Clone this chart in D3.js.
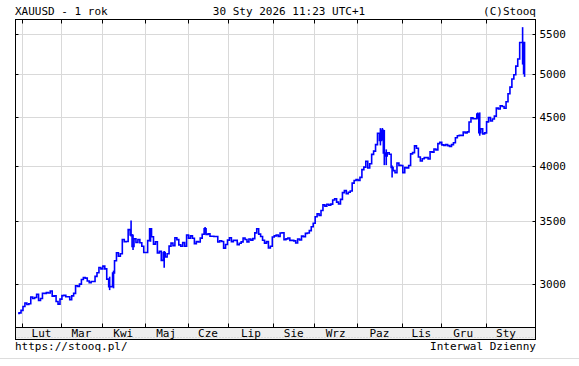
<!DOCTYPE html>
<html>
<head>
<meta charset="utf-8">
<script src="https://cdn.jsdelivr.net/npm/d3@7"></script>
<style>
  body { margin: 0; background: #fff; }
  text { font-family: "DejaVu Sans Mono", monospace; font-size: 11px; fill: #000; }
</style>
</head>
<body>
<div class="chart"></div>
<script>
// daily closes XAUUSD, one array per month (weekdays)
var jan25 = [2795, 2798];
var feb25 = [2815, 2842, 2866, 2856, 2861, 2908, 2898, 2905, 2928, 2883, 2898, 2935, 2934, 2939, 2936, 2951, 2914, 2916, 2876, 2858];
var mar25 = [2893, 2918, 2920, 2910, 2910, 2889, 2916, 2934, 2989, 2984, 3000, 3034, 3048, 3044, 3023, 3011, 3020, 3019, 3057, 3084, 3124];
var apr25 = [3113, 3134, 3113, 3037, 2982, 2982, 3082, 3175, 3237, 3210, 3230, 3343, 3326, 3327, 3424, 3381, 3288, 3349, 3319, 3343, 3317, 3289];
var may25 = [3239, 3240, 3334, 3431, 3366, 3306, 3325, 3236, 3248, 3178, 3240, 3204, 3230, 3290, 3314, 3294, 3357, 3342, 3300, 3289, 3318, 3289];
var jun25 = [3380, 3353, 3373, 3353, 3310, 3326, 3323, 3354, 3386, 3432, 3384, 3389, 3370, 3370, 3368, 3368, 3323, 3333, 3327, 3274, 3303];
var jul25 = [3338, 3357, 3326, 3337, 3336, 3301, 3313, 3324, 3355, 3343, 3324, 3347, 3338, 3350, 3397, 3431, 3387, 3368, 3337, 3314, 3326, 3275, 3289];
var aug25 = [3363, 3373, 3380, 3369, 3396, 3398, 3342, 3348, 3356, 3336, 3336, 3332, 3315, 3347, 3339, 3371, 3365, 3393, 3396, 3416, 3448];
var sep25 = [3477, 3533, 3559, 3545, 3587, 3636, 3625, 3641, 3634, 3643, 3679, 3690, 3660, 3644, 3685, 3746, 3764, 3736, 3749, 3760, 3833, 3858];
var oct25 = [3866, 3857, 3887, 3961, 3985, 4042, 3976, 4017, 4110, 4142, 4208, 4326, 4251, 4356, 4124, 4094, 4126, 4111, 3981, 3951, 3930, 4024, 4002];
var nov25 = [4000, 3932, 3980, 3977, 4000, 4115, 4127, 4195, 4172, 4084, 4045, 4067, 4078, 4078, 4064, 4136, 4132, 4163, 4155, 4218];
var dec25 = [4232, 4206, 4200, 4209, 4198, 4190, 4208, 4228, 4279, 4300, 4304, 4303, 4339, 4330, 4340, 4445, 4490, 4480, 4480, 4533, 4332, 4372, 4319];
var jan26 = [4330, 4447, 4495, 4456, 4478, 4509, 4598, 4588, 4625, 4615, 4596, 4670, 4760, 4838, 4935, 4985, 5090, 5180, 5390, 5390, 5000];

// visible daily ranges: [day index, low, high]
var wicks = [
  [47, 2957, 3055], [49, 2970, 3100], [58, 3367, 3500], [59, 3260, 3385],
  [68, 3325, 3438], [75, 3121, 3252], [96, 3384, 3446],
  [186, 4200, 4380], [187, 4250, 4381], [188, 4004, 4360], [189, 4004, 4160], [192, 3886, 4000],
  [236, 4480, 4550], [237, 4300, 4550], [259, 5110, 5595], [260, 4960, 5400]
];

var monthLabels = ["Lut", "Mar", "Kwi", "Maj", "Cze", "Lip", "Sie", "Wrz", "Paz", "Lis", "Gru", "Sty"];
var yTicks = [3000, 3500, 4000, 4500, 5000, 5500];

function init() {
  var w = 579;
  var h = 366;
  var left = 15.5, right = 535.5, top = 19.5, plotBottom = 327.5, bottom = 339.5;

  var months = [jan25, feb25, mar25, apr25, may25, jun25, jul25, aug25, sep25, oct25, nov25, dec25, jan26];
  var closes = [];
  var monthStarts = [];
  months.forEach(function(m, i) {
    if (i > 0) monthStarts.push(closes.length);
    m.forEach(function(v) { closes.push(v); });
  });
  var n = closes.length;

  var xScale = d3.scaleLinear()
    .domain([2, 240])
    .range([22, 485.6]);

  var yScale = d3.scaleLog()
    .domain([2704, 5700])
    .range([327, 19.5]);

  var svg = d3.select(".chart")
    .append("svg")
    .attr("width", w)
    .attr("height", h);

  svg.append("rect").attr("width", w).attr("height", h).attr("fill", "#fff");

  // grid
  svg.append("g")
    .selectAll("line")
    .data(yTicks)
    .enter()
    .append("line")
    .attr("x1", left).attr("x2", right)
    .attr("y1", function(d) { return Math.round(yScale(d)) + 0.5; })
    .attr("y2", function(d) { return Math.round(yScale(d)) + 0.5; })
    .attr("stroke", "#d9d9d9");

  svg.append("g")
    .selectAll("line")
    .data(monthStarts)
    .enter()
    .append("line")
    .attr("x1", function(d) { return Math.round(xScale(d)) + 0.5; })
    .attr("x2", function(d) { return Math.round(xScale(d)) + 0.5; })
    .attr("y1", top).attr("y2", plotBottom)
    .attr("stroke", "#d9d9d9");

  // date band
  svg.append("rect")
    .attr("x", left).attr("y", plotBottom)
    .attr("width", right - left).attr("height", bottom - plotBottom)
    .attr("fill", "#eeeeee");
  svg.append("line")
    .attr("x1", left).attr("x2", right)
    .attr("y1", bottom - 2).attr("y2", bottom - 2)
    .attr("stroke", "#c8c8c8")
    .attr("stroke-dasharray", "1,2");

  // price line
  var line = d3.line()
    .x(function(d, i) { return xScale(i); })
    .y(function(d) { return yScale(d); })
    .curve(d3.curveStep);

  svg.append("path")
    .datum(closes)
    .attr("d", line)
    .attr("fill", "none")
    .attr("stroke", "#0000ff")
    .attr("stroke-width", 1.6);

  svg.append("g")
    .selectAll("line")
    .data(wicks)
    .enter()
    .append("line")
    .attr("x1", function(d) { return xScale(d[0]); })
    .attr("x2", function(d) { return xScale(d[0]); })
    .attr("y1", function(d) { return yScale(d[1]); })
    .attr("y2", function(d) { return yScale(d[2]); })
    .attr("stroke", "#0000ff")
    .attr("stroke-width", 1.6);

  // frame
  svg.append("rect")
    .attr("x", left).attr("y", top)
    .attr("width", right - left).attr("height", bottom - top)
    .attr("fill", "none").attr("stroke", "#000");
  svg.append("line")
    .attr("x1", left).attr("x2", right)
    .attr("y1", plotBottom).attr("y2", plotBottom)
    .attr("stroke", "#000");

  // month ticks top and bottom
  var mt = svg.append("g").selectAll("g").data(monthStarts).enter().append("g");
  mt.append("line")
    .attr("x1", function(d) { return Math.round(xScale(d)) + 0.5; })
    .attr("x2", function(d) { return Math.round(xScale(d)) + 0.5; })
    .attr("y1", top).attr("y2", top + 4)
    .attr("stroke", "#000");
  mt.append("line")
    .attr("x1", function(d) { return Math.round(xScale(d)) + 0.5; })
    .attr("x2", function(d) { return Math.round(xScale(d)) + 0.5; })
    .attr("y1", plotBottom).attr("y2", plotBottom - 4)
    .attr("stroke", "#000");

  svg.append("g")
    .selectAll("text")
    .data(monthLabels)
    .enter()
    .append("text")
    .text(function(d) { return d; })
    .attr("x", function(d, i) {
      var a = xScale(monthStarts[i]);
      var b = i + 1 < monthStarts.length ? xScale(monthStarts[i + 1]) : xScale(n);
      return (a + b) / 2;
    })
    .attr("y", 337)
    .attr("text-anchor", "middle");

  // right axis
  var yAxis = d3.axisRight(yScale)
    .tickValues(yTicks)
    .tickSize(0)
    .tickPadding(4)
    .tickFormat(d3.format("d"));
  var ya = svg.append("g")
    .attr("transform", "translate(" + right + ",0)")
    .call(yAxis);
  ya.select(".domain").remove();
  ya.selectAll("text").attr("font-family", null).attr("font-size", null);

  svg.append("g")
    .selectAll("line")
    .data(yTicks)
    .enter()
    .append("line")
    .attr("x1", right - 3).attr("x2", right)
    .attr("y1", function(d) { return Math.round(yScale(d)) + 0.5; })
    .attr("y2", function(d) { return Math.round(yScale(d)) + 0.5; })
    .attr("stroke", "#000");
  svg.append("g")
    .selectAll("line")
    .data(yTicks)
    .enter()
    .append("line")
    .attr("x1", left).attr("x2", left + 3)
    .attr("y1", function(d) { return Math.round(yScale(d)) + 0.5; })
    .attr("y2", function(d) { return Math.round(yScale(d)) + 0.5; })
    .attr("stroke", "#000");

  // header and footer
  svg.append("text").text("XAUUSD - 1 rok").attr("x", 15).attr("y", 15);
  svg.append("text").text("30 Sty 2026 11:23 UTC+1").attr("x", 289).attr("y", 15).attr("text-anchor", "middle");
  svg.append("text").text("(C)Stooq").attr("x", 536).attr("y", 15).attr("text-anchor", "end");
  svg.append("text").text("https://stooq.pl/").attr("x", 15).attr("y", 350);
  svg.append("text").text("Interwal Dzienny").attr("x", 536).attr("y", 350).attr("text-anchor", "end");

  svg.append("line")
    .attr("x1", 0).attr("x2", w)
    .attr("y1", 358.5).attr("y2", 358.5)
    .attr("stroke", "#dddddd");
}

window.onload = init;
</script>
</body>
</html>
